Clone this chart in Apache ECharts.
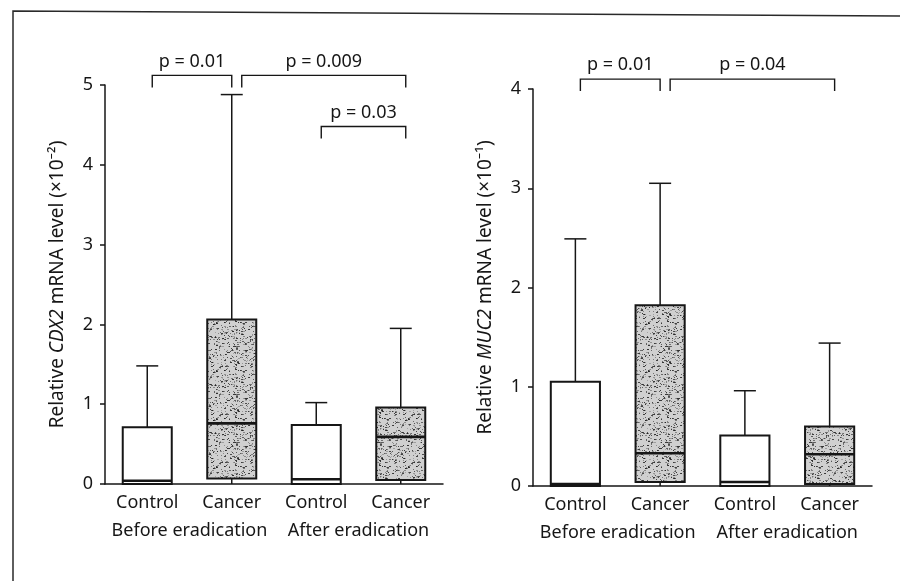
<!DOCTYPE html>
<html>
<head>
<meta charset="utf-8">
<script src="https://cdn.jsdelivr.net/npm/echarts@6/dist/echarts.min.js"></script>
<style>
  html, body { margin: 0; padding: 0; background: #fff; }
  #main { width: 900px; height: 581px; }
</style>
</head>
<body>
<div id="main"></div>
<script>
// categories and group labels
var categories = ['Control', 'Cancer', 'Control', 'Cancer'];
var groups = ['Before eradication', 'After eradication'];

// CDX2 (x10^-2): min, lower quartile, median, upper quartile, max
var cdx2Min = [0, 0, 0, 0];
var cdx2Q1 = [0.0, 0.07, 0.0, 0.05];
var cdx2Median = [0.04, 0.76, 0.06, 0.59];
var cdx2Q3 = [0.71, 2.06, 0.74, 0.96];
var cdx2Max = [1.48, 4.88, 1.02, 1.95];

// MUC2 (x10^-1)
var muc2Min = [0, 0, 0, 0];
var muc2Q1 = [0.0, 0.04, 0.0, 0.02];
var muc2Median = [0.02, 0.33, 0.04, 0.32];
var muc2Q3 = [1.05, 1.82, 0.51, 0.60];
var muc2Max = [2.49, 3.05, 0.96, 1.44];

// significance brackets: from category, to category, height
var cdx2BracketFrom = [0, 1, 2];
var cdx2BracketTo = [1, 3, 3];
var cdx2BracketY = [5.12, 5.12, 4.48];
var cdx2BracketText = ['p = 0.01', 'p = 0.009', 'p = 0.03'];

var muc2BracketFrom = [0, 1];
var muc2BracketTo = [1, 3];
var muc2BracketY = [4.1, 4.1];
var muc2BracketText = ['p = 0.01', 'p = 0.04'];

var yTicksCdx2 = [0, 1, 2, 3, 4, 5];
var yTicksMuc2 = [0, 1, 2, 3, 4];

var FONT = '"Noto Sans", "Open Sans", sans-serif';
var INK = '#161616';
var FS = 18;

function makeStipple() {
    var c = document.createElement('canvas');
    c.width = 48;
    c.height = 48;
    var ctx = c.getContext('2d');
    ctx.fillStyle = '#d0d0d0';
    ctx.fillRect(0, 0, 48, 48);
    var seed = 12345;
    function next() {
        seed = (seed * 16807) % 2147483647;
        return seed / 2147483647;
    }
    for (var k = 0; k < 400; k++) {
        var px = Math.floor(next() * 48);
        var py = Math.floor(next() * 48);
        var a = 0.2 + next() * 0.7;
        ctx.fillStyle = 'rgba(30,30,30,' + a.toFixed(2) + ')';
        ctx.fillRect(px, py, next() > 0.7 ? 2 : 1, 1);
    }
    return c;
}
var stipple = { image: makeStipple(), repeat: 'repeat' };

function boxRows(mn, q1, md, q3, mx) {
    return categories.map(function (c, i) {
        return [i, mn[i], q1[i], md[i], q3[i], mx[i]];
    });
}

function bracketRows(from, to, y) {
    return from.map(function (f, i) {
        return [f, to[i], y[i]];
    });
}

function renderBox(params, api) {
    var i = api.value(0);
    var lo = api.coord([i, api.value(1)]);
    var q1 = api.coord([i, api.value(2)]);
    var md = api.coord([i, api.value(3)]);
    var q3 = api.coord([i, api.value(4)]);
    var hi = api.coord([i, api.value(5)]);
    var band = api.size([1, 0])[0];
    var bw = band * 0.58;
    var cap = band * 0.26;
    var x = lo[0];
    var line = { stroke: INK, lineWidth: 1.5 };
    var fill = categories[i] === 'Cancer' ? stipple : '#fff';
    return {
        type: 'group',
        children: [
            { type: 'line', shape: { x1: x, y1: q3[1], x2: x, y2: hi[1] }, style: line },
            { type: 'line', shape: { x1: x - cap / 2, y1: hi[1], x2: x + cap / 2, y2: hi[1] }, style: line },
            { type: 'line', shape: { x1: x, y1: lo[1], x2: x, y2: q1[1] }, style: line },
            { type: 'rect', shape: { x: x - bw / 2, y: q3[1], width: bw, height: q1[1] - q3[1] },
              style: { fill: fill, stroke: INK, lineWidth: 2 } },
            { type: 'line', shape: { x1: x - bw / 2, y1: md[1], x2: x + bw / 2, y2: md[1] },
              style: { stroke: INK, lineWidth: 2.6 } }
        ]
    };
}

function makeBracketRenderer(from, to, texts) {
    return function (params, api) {
        var k = params.dataIndex;
        var f = api.value(0), t = api.value(1), yv = api.value(2);
        var startShift = to.indexOf(f) >= 0 ? 10 : 5;
        var endShift = from.indexOf(t) >= 0 ? 0 : 5;
        var a = api.coord([f, yv]);
        var b = api.coord([t, yv]);
        var x1 = a[0] + startShift, x2 = b[0] + endShift, y = a[1];
        return {
            type: 'group',
            children: [
                { type: 'polyline', shape: { points: [[x1, y + 12], [x1, y], [x2, y], [x2, y + 12]] },
                  style: { stroke: INK, lineWidth: 1.4, fill: null } },
                { type: 'text', x: (x1 + x2) / 2, y: y - 14,
                  style: { text: texts[k], fill: INK, font: FS + 'px ' + FONT, align: 'center', verticalAlign: 'middle' } }
            ]
        };
    };
}

function yAxisFor(grid, max, ticks, name) {
    return {
        type: 'value', gridIndex: grid, min: 0, max: max, interval: 1,
        name: name, nameLocation: 'middle', nameRotate: 90, nameGap: 38,
        nameTextStyle: { fontSize: 19, fontFamily: FONT, color: INK,
            rich: { i: { fontSize: 19, fontFamily: FONT, color: INK, fontStyle: 'italic' } } },
        axisLine: { show: true, lineStyle: { color: INK, width: 1.5 } },
        axisTick: { show: true, length: 5, lineStyle: { color: INK, width: 1.5 } },
        axisLabel: { fontSize: FS, fontFamily: FONT, color: INK, margin: 12,
            formatter: function (v) { return ticks.indexOf(v) >= 0 ? String(v) : ''; } },
        splitLine: { show: false }
    };
}

function catAxisFor(grid) {
    return {
        type: 'category', gridIndex: grid, data: categories, boundaryGap: true,
        axisLine: { lineStyle: { color: INK, width: 1.5 } },
        axisTick: { length: 9, lineStyle: { color: INK, width: 1.5 } },
        axisLabel: { fontSize: FS, fontFamily: FONT, color: INK, margin: 10, interval: 0 }
    };
}

function groupAxisFor(grid) {
    return {
        type: 'category', gridIndex: grid, data: groups, position: 'bottom', offset: 28,
        axisLine: { show: false }, axisTick: { show: false },
        axisLabel: { fontSize: FS, fontFamily: FONT, color: INK, margin: 10, interval: 0 }
    };
}

var chart = echarts.init(document.getElementById('main'));

var option = {
    backgroundColor: '#fff',
    animation: false,
    graphic: [{
        type: 'polyline',
        shape: { points: [[13, 581], [13, 11], [900, 16]] },
        style: { stroke: '#2a2a2a', lineWidth: 1.5, fill: null }
    }],
    grid: [
        { left: 105, top: 85, width: 338, height: 399 },
        { left: 533, top: 89, width: 339, height: 397 }
    ],
    xAxis: [catAxisFor(0), groupAxisFor(0), catAxisFor(1), groupAxisFor(1)],
    yAxis: [
        yAxisFor(0, 5, yTicksCdx2, 'Relative {i|CDX2} mRNA level (×10⁻²)'),
        yAxisFor(1, 4, yTicksMuc2, 'Relative {i|MUC2} mRNA level (×10⁻¹)')
    ],
    series: [
        {
            type: 'custom', xAxisIndex: 0, yAxisIndex: 0,
            renderItem: renderBox,
            encode: { x: 0, y: [1, 2, 3, 4, 5] },
            data: boxRows(cdx2Min, cdx2Q1, cdx2Median, cdx2Q3, cdx2Max)
        },
        {
            type: 'custom', xAxisIndex: 2, yAxisIndex: 1,
            renderItem: renderBox,
            encode: { x: 0, y: [1, 2, 3, 4, 5] },
            data: boxRows(muc2Min, muc2Q1, muc2Median, muc2Q3, muc2Max)
        },
        {
            type: 'custom', xAxisIndex: 0, yAxisIndex: 0, clip: false,
            renderItem: makeBracketRenderer(cdx2BracketFrom, cdx2BracketTo, cdx2BracketText),
            encode: { x: [0, 1], y: 2 },
            data: bracketRows(cdx2BracketFrom, cdx2BracketTo, cdx2BracketY)
        },
        {
            type: 'custom', xAxisIndex: 2, yAxisIndex: 1, clip: false,
            renderItem: makeBracketRenderer(muc2BracketFrom, muc2BracketTo, muc2BracketText),
            encode: { x: [0, 1], y: 2 },
            data: bracketRows(muc2BracketFrom, muc2BracketTo, muc2BracketY)
        }
    ]
};

chart.setOption(option);
</script>
</body>
</html>
